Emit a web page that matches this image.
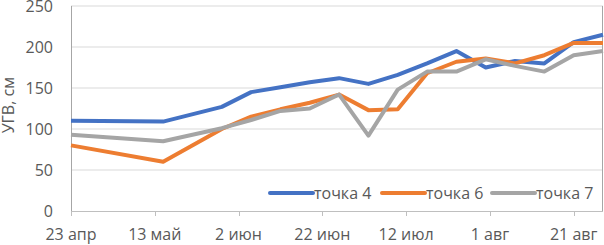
<!DOCTYPE html>
<meta charset="utf-8" />
<script src="https://d3js.org/d3.v7.js"></script>
<style>
  body { margin: 0; background: #fff; }
  text { font-family: "Open Sans", sans-serif; fill: #595959; }
</style>
<div id="chart"></div>
<script>
  // data
  const dates = [
    "2020-04-23", "2020-05-15", "2020-05-29", "2020-06-05", "2020-06-12",
    "2020-06-19", "2020-06-26", "2020-07-03", "2020-07-10", "2020-07-17",
    "2020-07-24", "2020-07-31", "2020-08-07", "2020-08-14", "2020-08-21",
    "2020-08-28"
  ];
  const point4 = [110, 109, 127, 145, 151, 157, 162, 155, 166, 180, 195, 175, 183, 180, 206, 215];
  const point6 = [80, 60, 100, 115, 124, 132, 142, 123, 124, 168, 182, 186, 180, 190, 205, 205];
  const point7 = [93, 85, 101, 111, 122, 125, 142, 92, 148, 170, 170, 185, 177, 170, 190, 195];
  const seriesNames = ["точка 4", "точка 6", "точка 7"];
  const colors = ["#4472C4", "#ED7D31", "#A5A5A5"];
  const yTicks = [0, 50, 100, 150, 200, 250];
  const xTickLabels = ["23 апр", "13 май", "2 июн", "22 июн", "12 июл", "1 авг", "21 авг"];

  const width = 604;
  const height = 245;
  const margin = { top: 6, right: 1, bottom: 34, left: 71 };

  const parse = d3.timeParse("%Y-%m-%d");
  const days = dates.map(parse);

  const svg = d3
    .select("#chart")
    .append("svg")
    .attr("width", width)
    .attr("height", height);

  const x = d3
    .scaleTime()
    .domain([days[0], days[days.length - 1]])
    .range([margin.left, width - margin.right]);

  const y = d3
    .scaleLinear()
    .domain([0, 250])
    .range([height - margin.bottom, margin.top]);

  // gridlines
  svg
    .append("g")
    .selectAll("line")
    .data(yTicks.slice(1))
    .join("line")
    .attr("x1", margin.left)
    .attr("x2", width - margin.right)
    .attr("y1", (d) => y(d))
    .attr("y2", (d) => y(d))
    .attr("stroke", "#d9d9d9")
    .attr("stroke-width", 1);

  // right border of plot
  svg
    .append("line")
    .attr("x1", width - margin.right - 0.5)
    .attr("x2", width - margin.right - 0.5)
    .attr("y1", margin.top)
    .attr("y2", y(0))
    .attr("stroke", "#a6a6a6");

  // y axis
  svg
    .append("g")
    .selectAll("text")
    .data(yTicks)
    .join("text")
    .attr("x", 53)
    .attr("y", (d) => y(d) + 6)
    .attr("text-anchor", "end")
    .style("font-size", "16px")
    .text((d) => d);

  svg
    .append("line")
    .attr("x1", margin.left + 0.5)
    .attr("x2", margin.left + 0.5)
    .attr("y1", margin.top)
    .attr("y2", y(0))
    .attr("stroke", "#a6a6a6");

  svg
    .append("text")
    .attr("transform", "translate(14," + y(129) + ") rotate(-90)")
    .attr("text-anchor", "middle")
    .style("font-size", "16px")
    .text("УГВ, см");

  // x axis, ticks every 20 days
  const xTicks = xTickLabels.map((l, i) => d3.timeDay.offset(days[0], i * 20));

  const xAxis = svg.append("g");
  xAxis
    .append("line")
    .attr("x1", margin.left)
    .attr("x2", width - margin.right)
    .attr("y1", y(0) + 0.5)
    .attr("y2", y(0) + 0.5)
    .attr("stroke", "#bfbfbf");

  xAxis
    .selectAll(".tick")
    .data(xTicks)
    .join("line")
    .attr("x1", (d) => Math.round(x(d)) + 0.5)
    .attr("x2", (d) => Math.round(x(d)) + 0.5)
    .attr("y1", y(0))
    .attr("y2", y(0) + 5)
    .attr("stroke", "#bfbfbf");

  xAxis
    .selectAll("text")
    .data(xTicks)
    .join("text")
    .attr("x", (d) => x(d))
    .attr("y", 240)
    .attr("text-anchor", "middle")
    .style("font-size", "16px")
    .text((d, i) => xTickLabels[i]);

  // lines
  const line = d3
    .line()
    .x((d, i) => x(days[i]))
    .y((d) => y(d));

  const series = [point4, point6, point7];
  svg
    .append("g")
    .selectAll("path")
    .data(series)
    .join("path")
    .attr("d", line)
    .attr("fill", "none")
    .attr("stroke", (d, i) => colors[i])
    .attr("stroke-width", 4)
    .attr("stroke-linejoin", "round");

  // legend
  const legendX = [270, 382, 492];
  const legend = svg
    .append("g")
    .selectAll("g")
    .data(seriesNames)
    .join("g")
    .attr("transform", (d, i) => "translate(" + legendX[i] + ",193)");

  legend
    .append("line")
    .attr("x1", 0)
    .attr("x2", 43)
    .attr("stroke", (d, i) => colors[i])
    .attr("stroke-width", 4)
    .attr("stroke-linecap", "round");

  legend
    .append("text")
    .attr("x", 44)
    .attr("y", 6)
    .style("font-size", "16px")
    .text((d) => d);
</script>
